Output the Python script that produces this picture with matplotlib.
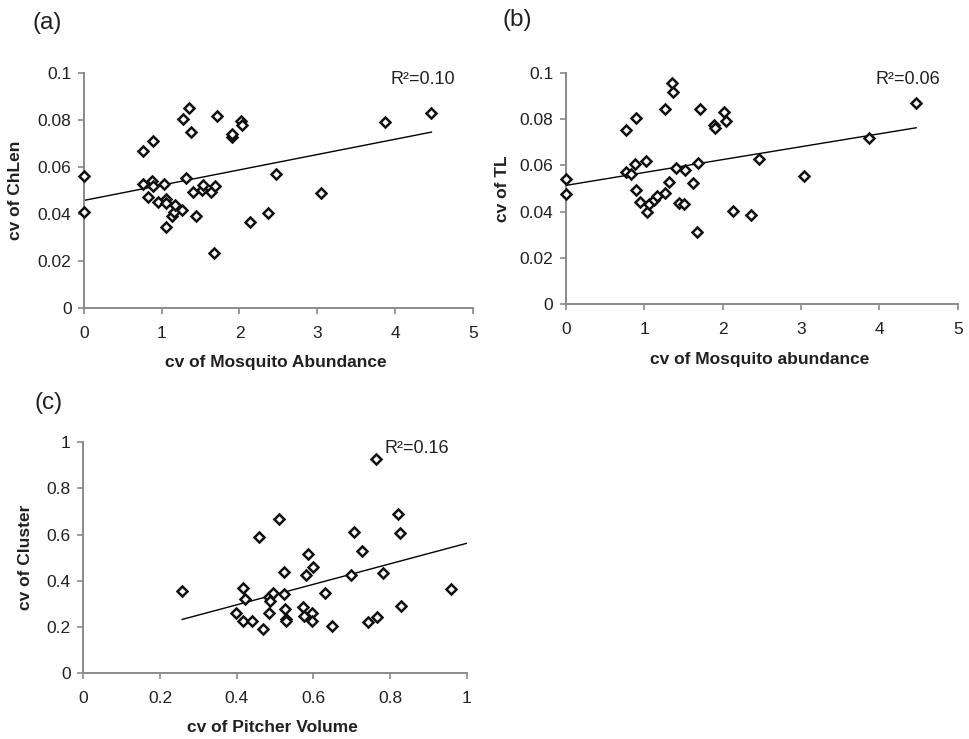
import numpy as np
import matplotlib
matplotlib.use("Agg")
import matplotlib.pyplot as plt

plt.rcParams['font.family'] = ['Liberation Sans', 'DejaVu Sans']

# (a) cv of mosquito abundance vs cv of ChLen
mosq_a = [0.0, 0.0, 0.763, 0.892, 0.763, 0.875, 0.892, 0.828, 0.952, 1.025,
          1.05, 1.055, 1.05, 1.132, 1.158, 1.175, 1.26, 1.274, 1.35, 1.372,
          1.317, 1.40, 1.437, 1.518, 1.527, 1.63, 1.685, 1.711, 1.668, 1.90,
          1.908, 2.02, 2.037, 2.13, 2.37, 2.47, 3.05, 3.87, 4.47]
chlen = [0.0563, 0.0407, 0.0669, 0.0711, 0.0526, 0.054, 0.0519, 0.0471, 0.0453, 0.0529,
         0.0464, 0.0446, 0.0345, 0.0393, 0.0407, 0.044, 0.0416, 0.0803, 0.085, 0.075,
         0.0554, 0.0495, 0.0393, 0.0504, 0.0522, 0.0494, 0.052, 0.0818, 0.0236, 0.0726,
         0.074, 0.0796, 0.0778, 0.0368, 0.0403, 0.0571, 0.0488, 0.0789, 0.0827]

# (b) cv of mosquito abundance vs cv of TL
mosq_b = [0.0, 0.0, 0.761, 0.888, 0.77, 0.825, 0.876, 0.888, 0.948, 1.02,
          1.037, 1.054, 1.127, 1.165, 1.267, 1.27, 1.318, 1.347, 1.369, 1.398,
          1.437, 1.505, 1.513, 1.624, 1.684, 1.675, 1.713, 1.883, 1.896, 2.02,
          2.045, 2.126, 2.368, 2.466, 3.04, 3.87, 4.47]
tl = [0.0539, 0.0474, 0.0754, 0.0803, 0.0572, 0.056, 0.0604, 0.0491, 0.0441, 0.0618,
      0.0399, 0.0431, 0.045, 0.0468, 0.0481, 0.0844, 0.0527, 0.0954, 0.0918, 0.0588,
      0.0438, 0.0432, 0.0581, 0.0522, 0.0611, 0.031, 0.0841, 0.0774, 0.0762, 0.0829,
      0.0793, 0.0402, 0.0385, 0.0628, 0.0555, 0.0719, 0.0869]

# (c) cv of pitcher volume vs cv of cluster
volume = [0.258, 0.397, 0.416, 0.423, 0.417, 0.44, 0.458, 0.468, 0.485, 0.488,
          0.494, 0.485, 0.51, 0.523, 0.524, 0.525, 0.528, 0.53, 0.573, 0.576,
          0.58, 0.585, 0.597, 0.597, 0.599, 0.63, 0.649, 0.698, 0.706, 0.727,
          0.743, 0.763, 0.766, 0.782, 0.822, 0.826, 0.83, 0.96]
cluster = [0.354, 0.262, 0.367, 0.323, 0.226, 0.226, 0.588, 0.192, 0.331, 0.314,
           0.346, 0.262, 0.667, 0.437, 0.344, 0.277, 0.233, 0.226, 0.288, 0.248,
           0.424, 0.517, 0.262, 0.225, 0.461, 0.347, 0.206, 0.425, 0.61, 0.529,
           0.22, 0.925, 0.245, 0.432, 0.689, 0.605, 0.293, 0.365]

# trend lines: (x start, x end), (y start, y end)
trend_a = ([0.0, 4.47], [0.0458, 0.0748])
trend_b = ([0.0, 4.47], [0.0513, 0.0762])
trend_c = ([0.258, 1.0], [0.233, 0.562])

r2_labels = ["R²=0.10", "R²=0.06", "R²=0.16"]

text_col = "#231f20"
spine_col = "#8a8a8e"


def style_axes(ax, xmax, ymax, xticks, yticks, xlabels, ylabels):
	ax.set_xlim(0, xmax)
	ax.set_ylim(0, ymax)
	ax.set_xticks(xticks)
	ax.set_xticklabels(xlabels)
	ax.set_yticks(yticks)
	ax.set_yticklabels(ylabels)
	for side in ["top", "right"]:
		ax.spines[side].set_visible(False)
	for side in ["left", "bottom"]:
		ax.spines[side].set_color(spine_col)
		ax.spines[side].set_linewidth(1.4)
	ax.tick_params(axis="x", direction="out", length=4, width=1.2, color=spine_col,
				   labelsize=12.5, labelcolor=text_col, pad=9)
	ax.tick_params(axis="y", direction="out", length=4, width=1.2, color=spine_col,
				   labelsize=12.5, labelcolor=text_col, pad=5)


def draw_panel(ax, x, y, trend, r2):
	ax.plot(trend[0], trend[1], color="black", linewidth=1.0, zorder=2)
	ax.plot(x, y, linestyle="none", marker="D", markersize=5.6,
			markerfacecolor="white", markeredgecolor="#111111",
			markeredgewidth=1.8, zorder=3, clip_on=False)
	ax.text(0.955, 0.97, r2, transform=ax.transAxes, ha="right", va="center",
			fontsize=13, color=text_col)


fig = plt.figure(figsize=(9.7, 7.39), dpi=100)

ax_a = fig.add_axes([0.0866, 0.5828, 0.4007, 0.3188])
ax_b = fig.add_axes([0.5835, 0.5886, 0.4038, 0.3130])
ax_c = fig.add_axes([0.0859, 0.0889, 0.3952, 0.3130])

mosq_ticks = [0, 1, 2, 3, 4, 5]
small_ticks = [0, 0.02, 0.04, 0.06, 0.08, 0.1]
small_labels = ["0", "0.02", "0.04", "0.06", "0.08", "0.1"]
frac_ticks = [0, 0.2, 0.4, 0.6, 0.8, 1.0]
frac_labels = ["0", "0.2", "0.4", "0.6", "0.8", "1"]

style_axes(ax_a, 5, 0.1, mosq_ticks, small_ticks, [str(t) for t in mosq_ticks], small_labels)
style_axes(ax_b, 5, 0.1, mosq_ticks, small_ticks, [str(t) for t in mosq_ticks], small_labels)
style_axes(ax_c, 1, 1, frac_ticks, frac_ticks, frac_labels, frac_labels)

draw_panel(ax_a, mosq_a, chlen, trend_a, r2_labels[0])
draw_panel(ax_b, mosq_b, tl, trend_b, r2_labels[1])
draw_panel(ax_c, volume, cluster, trend_c, r2_labels[2])

lab = dict(fontsize=12.5, fontweight="bold", color=text_col)
ax_a.set_xlabel("cv of Mosquito Abundance", **lab)
ax_a.set_ylabel("cv of ChLen", **lab)
ax_b.set_xlabel("cv of Mosquito abundance", **lab)
ax_b.set_ylabel("cv of TL", **lab)
ax_c.set_xlabel("cv of Pitcher Volume", **lab)
ax_c.set_ylabel("cv of Cluster", **lab)

ax_a.xaxis.set_label_coords(0.494, -0.232)
ax_a.yaxis.set_label_coords(-0.176, 0.5)
ax_b.xaxis.set_label_coords(0.494, -0.240)
ax_b.yaxis.set_label_coords(-0.161, 0.5)
ax_c.xaxis.set_label_coords(0.494, -0.236)
ax_c.yaxis.set_label_coords(-0.152, 0.5)
for ax in [ax_a, ax_b, ax_c]:
	ax.xaxis.label.set_va("center")
	ax.yaxis.label.set_va("center")

fig.text(33 / 970, 1 - 23 / 739, "(a)", fontsize=17.5, color=text_col, va="center")
fig.text(502 / 970, 1 - 20 / 739, "(b)", fontsize=17.5, color=text_col, va="center")
fig.text(35 / 970, 1 - 403 / 739, "(c)", fontsize=17.5, color=text_col, va="center")

fig.savefig("out.png", dpi=100)
